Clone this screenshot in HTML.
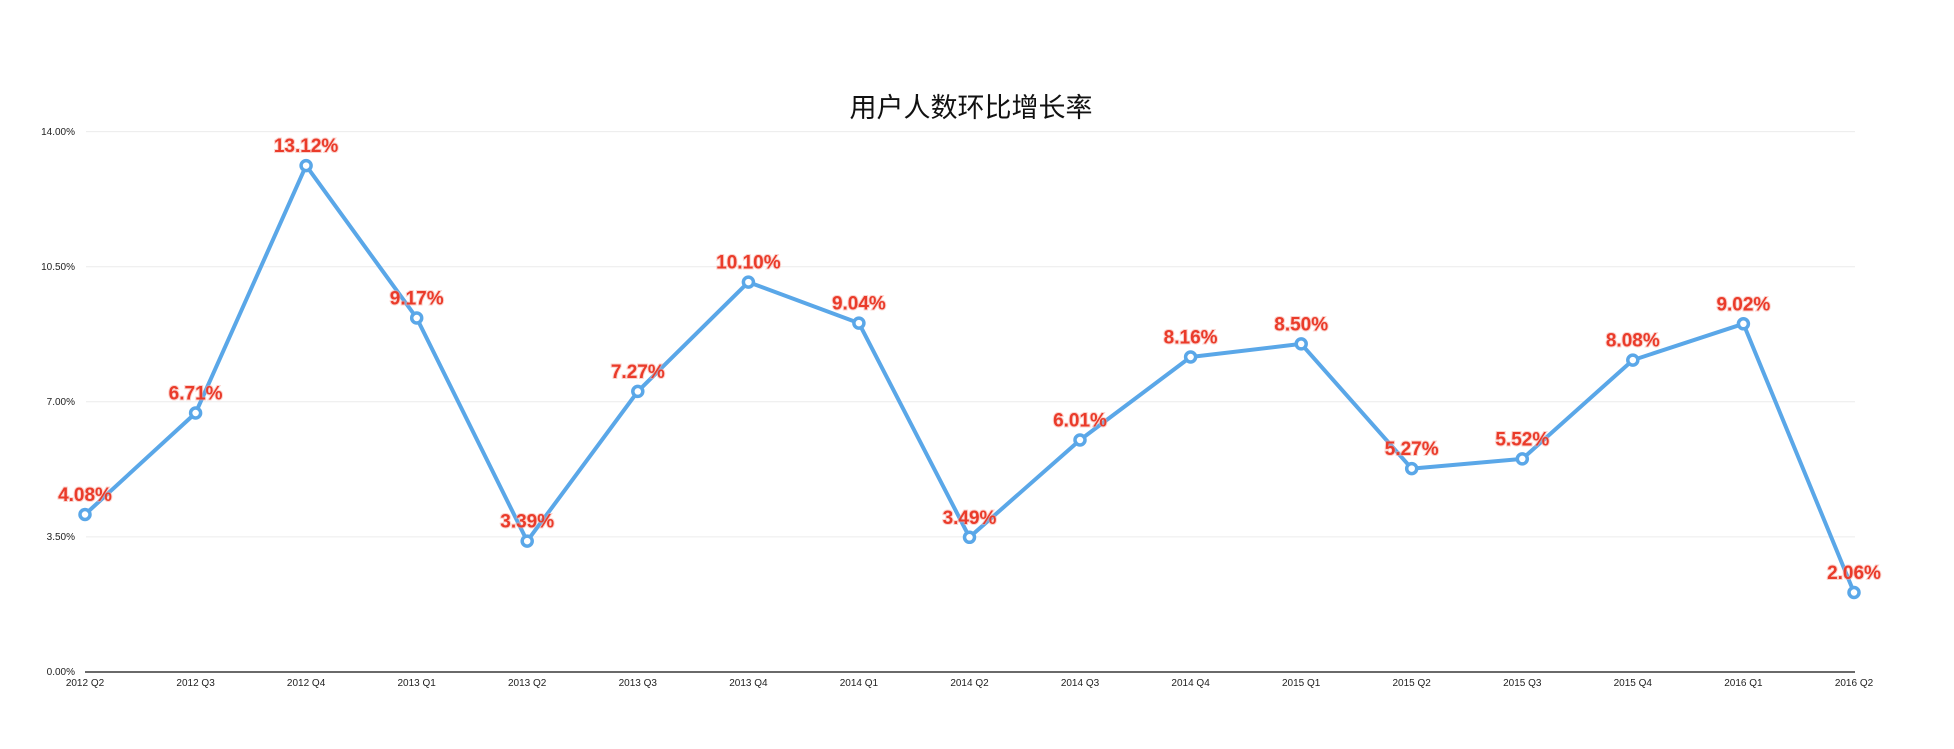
<!DOCTYPE html>
<html><head><meta charset="utf-8"><style>
body{margin:0;background:#fff;}
svg text{font-family:"Liberation Sans","Noto Sans CJK SC",sans-serif;}
.yl{font-size:10px;fill:#222;text-anchor:end;}
.xl{font-size:10px;fill:#222;text-anchor:middle;}
.dl{font-size:19px;font-weight:bold;fill:#ea3b2a;text-anchor:middle;dominant-baseline:central;stroke:#f7a79e;stroke-width:2px;paint-order:stroke;stroke-opacity:0.5}
</style></head><body>
<svg width="1954" height="744" xmlns="http://www.w3.org/2000/svg">
<text x="971" y="108" font-size="27" text-anchor="middle" dominant-baseline="central" fill="#111">用户人数环比增长率</text>
<g stroke="#ececec" stroke-width="1">
<line x1="86" y1="131.6" x2="1855" y2="131.6"/>
<line x1="86" y1="266.7" x2="1855" y2="266.7"/>
<line x1="86" y1="401.8" x2="1855" y2="401.8"/>
<line x1="86" y1="536.9" x2="1855" y2="536.9"/>
</g>
<line x1="85" y1="672" x2="1855" y2="672" stroke="#111" stroke-width="1.3"/>
<text class="yl" x="75" y="135">14.00%</text>
<text class="yl" x="75" y="270">10.50%</text>
<text class="yl" x="75" y="405">7.00%</text>
<text class="yl" x="75" y="540">3.50%</text>
<text class="yl" x="75" y="675">0.00%</text>
<g class="xl">
<text class="xl" x="85" y="686">2012 Q2</text>
<text class="xl" x="195.6" y="686">2012 Q3</text>
<text class="xl" x="306.1" y="686">2012 Q4</text>
<text class="xl" x="416.7" y="686">2013 Q1</text>
<text class="xl" x="527.2" y="686">2013 Q2</text>
<text class="xl" x="637.8" y="686">2013 Q3</text>
<text class="xl" x="748.4" y="686">2013 Q4</text>
<text class="xl" x="858.9" y="686">2014 Q1</text>
<text class="xl" x="969.5" y="686">2014 Q2</text>
<text class="xl" x="1080" y="686">2014 Q3</text>
<text class="xl" x="1190.6" y="686">2014 Q4</text>
<text class="xl" x="1301.2" y="686">2015 Q1</text>
<text class="xl" x="1411.7" y="686">2015 Q2</text>
<text class="xl" x="1522.3" y="686">2015 Q3</text>
<text class="xl" x="1632.8" y="686">2015 Q4</text>
<text class="xl" x="1743.4" y="686">2016 Q1</text>
<text class="xl" x="1854" y="686">2016 Q2</text>
</g>
<polyline fill="none" stroke="#5aa7e8" stroke-width="4" stroke-linejoin="round" points="85,514.5 195.6,413 306.1,165.6 416.7,318 527.2,541.1 637.8,391.4 748.4,282.1 858.9,323.1 969.5,537.3 1080,440 1190.6,357 1301.2,343.9 1411.7,468.6 1522.3,458.9 1632.8,360.1 1743.4,323.8 1854,592.5"/>
<g fill="#fff" stroke="#5aa7e8" stroke-width="3.5">
<circle cx="85" cy="514.5" r="5"/><circle cx="195.6" cy="413" r="5"/><circle cx="306.1" cy="165.6" r="5"/><circle cx="416.7" cy="318" r="5"/><circle cx="527.2" cy="541.1" r="5"/><circle cx="637.8" cy="391.4" r="5"/><circle cx="748.4" cy="282.1" r="5"/><circle cx="858.9" cy="323.1" r="5"/><circle cx="969.5" cy="537.3" r="5"/><circle cx="1080" cy="440" r="5"/><circle cx="1190.6" cy="357" r="5"/><circle cx="1301.2" cy="343.9" r="5"/><circle cx="1411.7" cy="468.6" r="5"/><circle cx="1522.3" cy="458.9" r="5"/><circle cx="1632.8" cy="360.1" r="5"/><circle cx="1743.4" cy="323.8" r="5"/><circle cx="1854" cy="592.5" r="5"/>
</g>
<text class="dl" x="85" y="495.5">4.08%</text>
<text class="dl" x="195.6" y="394">6.71%</text>
<text class="dl" x="306.1" y="146.6">13.12%</text>
<text class="dl" x="416.7" y="299">9.17%</text>
<text class="dl" x="527.2" y="522.1">3.39%</text>
<text class="dl" x="637.8" y="372.4">7.27%</text>
<text class="dl" x="748.4" y="263.1">10.10%</text>
<text class="dl" x="858.9" y="304.1">9.04%</text>
<text class="dl" x="969.5" y="518.3">3.49%</text>
<text class="dl" x="1080" y="421">6.01%</text>
<text class="dl" x="1190.6" y="338">8.16%</text>
<text class="dl" x="1301.2" y="324.9">8.50%</text>
<text class="dl" x="1411.7" y="449.6">5.27%</text>
<text class="dl" x="1522.3" y="439.9">5.52%</text>
<text class="dl" x="1632.8" y="341.1">8.08%</text>
<text class="dl" x="1743.4" y="304.8">9.02%</text>
<text class="dl" x="1854" y="573.5">2.06%</text>
</svg>
</body></html>
